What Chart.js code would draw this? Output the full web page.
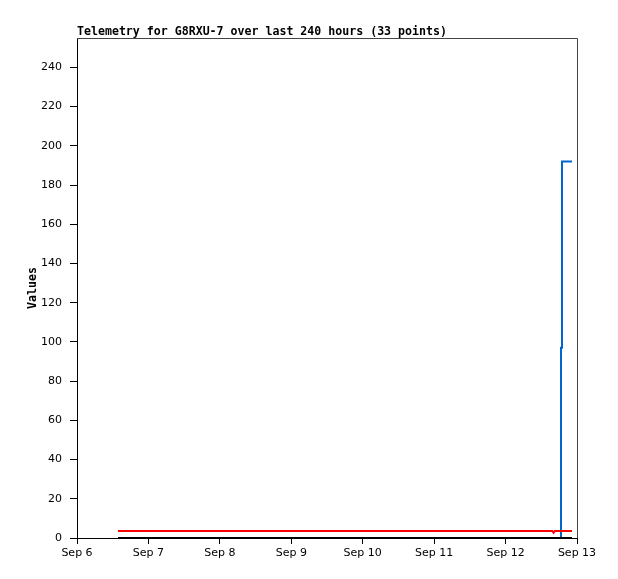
<!DOCTYPE html>
<html>
<head>
<meta charset="utf-8">
<script src="https://cdn.jsdelivr.net/npm/chart.js@4"></script>
<style>
  html, body { margin: 0; padding: 0; background: #fff; }
  #wrap { width: 618px; height: 579px; }
</style>
</head>
<body>
<div id="wrap"><canvas id="chart" width="618" height="579"></canvas></div>
<script>
'use strict';

const title = 'Telemetry for G8RXU-7 over last 240 hours (33 points)';
// x position in days after Sep 6 00:00
const times = [0.574, 2.0, 4.0, 6.0, 6.655, 6.672, 6.69, 6.776, 6.79, 6.93];
const blueValues = [0, 0, 0, 0, 0, 0, 0, 97, 192, 192];
const redValues = [3.6, 3.6, 3.6, 3.6, 3.6, 2.7, 3.6, 3.6, 3.6, 3.6];
const blackValues = [0, 0, 0, 0, 0, 0, 0, 0, 0, 0];
const dayLabels = ['Sep 6', 'Sep 7', 'Sep 8', 'Sep 9', 'Sep 10', 'Sep 11', 'Sep 12', 'Sep 13'];
const yTicks = [0, 20, 40, 60, 80, 100, 120, 140, 160, 180, 200, 220, 240];

const pts = vals => vals.map((v, i) => ({x: times[i], y: v}));
const monoBold = 'bold 11.6px "DejaVu Sans Mono"';

const frame = {
  id: 'frame',
  afterDraw(chart) {
    const {ctx, chartArea: a} = chart;
    ctx.save();
    ctx.strokeStyle = '#444';
    ctx.lineWidth = 1;
    ctx.beginPath();
    ctx.moveTo(a.left, a.top + 0.5);
    ctx.lineTo(a.right + 0.5, a.top + 0.5);
    ctx.lineTo(a.right + 0.5, a.bottom);
    ctx.stroke();
    ctx.fillStyle = '#000';
    ctx.font = monoBold;
    ctx.textBaseline = 'alphabetic';
    ctx.fillText(title, a.left, 35);
    ctx.translate(36, (a.top + a.bottom) / 2);
    ctx.rotate(-Math.PI / 2);
    ctx.textAlign = 'center';
    ctx.fillText('Values', 0, 0);
    ctx.restore();
  }
};

const config = {
  type: 'line',
  data: {
    datasets: [{
      label: 'black',
      borderColor: '#000000',
      borderWidth: 2,
      pointRadius: 0,
      data: pts(blackValues)
    }, {
      label: 'red',
      borderColor: '#ff0000',
      borderWidth: 2,
      pointRadius: 0,
      data: pts(redValues)
    }, {
      label: 'blue',
      borderColor: '#0066cc',
      borderWidth: 2,
      pointRadius: 0,
      stepped: 'before',
      data: pts(blueValues)
    }]
  },
  options: {
    responsive: false,
    animation: false,
    layout: {padding: {left: 0, right: 41, top: 38, bottom: 0}},
    plugins: {legend: {display: false}, tooltip: {enabled: false}, title: {display: false}},
    scales: {
      x: {
        type: 'linear',
        min: 0,
        max: 7,
        afterFit: s => { s.height = 41; },
        afterBuildTicks: s => { s.ticks = dayLabels.map((_, i) => ({value: i})); },
        grid: {drawOnChartArea: false, drawTicks: true, tickLength: 6, color: '#000'},
        border: {color: '#000', width: 1},
        ticks: {
          color: '#000',
          padding: 3,
          maxRotation: 0,
          autoSkip: false,
          font: {family: 'DejaVu Sans', size: 11},
          callback: v => dayLabels[v]
        }
      },
      y: {
        min: 0,
        max: 255,
        afterFit: s => { s.width = 77; },
        afterBuildTicks: s => { s.ticks = yTicks.map(v => ({value: v})); },
        grid: {drawOnChartArea: false, drawTicks: true, tickLength: 7, color: '#000'},
        border: {color: '#000', width: 1},
        ticks: {
          color: '#000',
          padding: 8,
          font: {family: 'DejaVu Sans', size: 11}
        }
      }
    }
  },
  plugins: [frame]
};

const chart = new Chart(document.querySelector('#chart').getContext('2d'), config);
</script>
</body>
</html>
